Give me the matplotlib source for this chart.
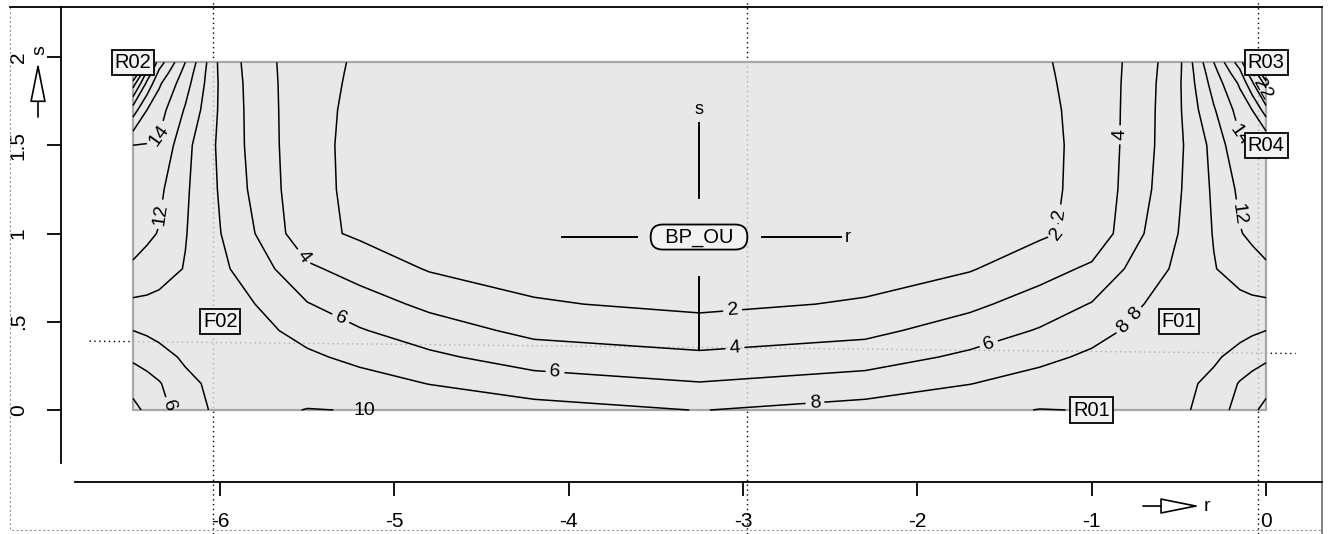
import numpy as np
import matplotlib.pyplot as plt
from matplotlib.patches import Rectangle

plt.rcParams['font.family'] = ['Liberation Sans', 'DejaVu Sans']
plt.rcParams['axes.unicode_minus'] = False

# mesh nodes: r along the member, s across it
r_nodes = [-6.5, -6.42, -6.35, -6.2, -6.0, -5.8, -5.5, -5.2, -4.8, -4.2, -3.25,
           -2.3, -1.7, -1.3, -1.0, -0.7, -0.5, -0.3, -0.15, -0.08, 0.0]
s_nodes = [0.0, 0.15, 0.3, 0.45, 0.6, 0.8, 1.0, 1.25, 1.5, 1.7, 1.85, 1.91, 1.97]

# nodal values estimated from the isolines, one row per s node
row_000 = [3.3, 4.5, 5.3, 7.0, 8.5, 9.6, 10.05, 9.95, 9.4, 8.75, 7.95,
           8.75, 9.5, 10.05, 9.95, 9.6, 8.5, 7.0, 5.3, 4.5, 3.3]
row_015 = [4.9, 5.3, 5.85, 7.5, 8.6, 9.3, 9.2, 8.8, 7.95, 6.9, 6.1,
           6.9, 7.95, 8.8, 9.2, 9.3, 8.6, 7.5, 5.85, 5.3, 4.9]
row_030 = [6.3, 6.8, 7.3, 8.3, 9.0, 9.1, 8.35, 7.5, 6.4, 5.06, 4.4,
           5.06, 6.4, 7.5, 8.35, 9.1, 9.0, 8.3, 7.3, 6.8, 6.3]
row_045 = [8.0, 8.3, 8.6, 9.0, 9.2, 8.6, 7.3, 6.15, 4.95, 3.48, 2.8,
           3.48, 4.95, 6.15, 7.3, 8.6, 9.2, 9.0, 8.6, 8.3, 8.0]
row_060 = [9.6, 9.55, 9.45, 9.3, 9.2, 8.0, 6.1, 4.9, 3.55, 2.17, 1.6,
           2.17, 3.55, 4.9, 6.1, 8.0, 9.2, 9.3, 9.45, 9.55, 9.6]
row_080 = [11.8, 11.3, 10.8, 9.9, 8.4, 7.0, 4.35, 3.2, 1.85, 1.3, 1.0,
           1.3, 1.85, 3.2, 4.35, 7.0, 8.4, 9.9, 10.8, 11.3, 11.8]
row_100 = [12.6, 12.35, 11.9, 10.1, 8.05, 6.0, 2.6, 1.7, 1.2, 1.0, 0.8,
           1.0, 1.2, 1.7, 2.6, 6.0, 8.05, 10.1, 11.9, 12.35, 12.6]
row_125 = [13.2, 12.9, 12.4, 10.3, 7.8, 5.5, 2.5, 1.6, 1.0, 0.85, 0.7,
           0.85, 1.0, 1.6, 2.5, 5.5, 7.8, 10.3, 12.4, 12.9, 13.2]
row_150 = [14.0, 13.9, 13.7, 10.6, 7.6, 5.3, 2.5, 1.55, 0.9, 0.8, 0.7,
           0.8, 0.9, 1.55, 2.5, 5.3, 7.6, 10.6, 13.7, 13.9, 14.0]
row_170 = [19.0, 16.0, 14.8, 11.8, 7.7, 5.2, 2.55, 1.6, 0.9, 0.8, 0.7,
           0.8, 0.9, 1.6, 2.55, 5.2, 7.7, 11.8, 14.8, 16.0, 19.0]
row_185 = [25.0, 19.5, 16.3, 12.8, 7.7, 5.1, 2.6, 1.7, 0.9, 0.8, 0.7,
           0.8, 0.9, 1.7, 2.6, 5.1, 7.7, 12.8, 16.3, 19.5, 25.0]
row_191 = [29.0, 21.5, 17.5, 13.3, 7.6, 5.05, 2.6, 1.75, 0.9, 0.8, 0.7,
           0.8, 0.9, 1.75, 2.6, 5.05, 7.6, 13.3, 17.5, 21.5, 29.0]
row_197 = [34.0, 24.0, 19.0, 14.0, 7.5, 5.0, 2.6, 1.8, 0.9, 0.8, 0.7,
           0.8, 0.9, 1.8, 2.6, 5.0, 7.5, 14.0, 19.0, 24.0, 34.0]

levels = [2, 4, 6, 8, 10, 12, 14, 16, 18, 20, 22, 24, 26, 28, 30, 32]

x_ticks = [-6, -5, -4, -3, -2, -1, 0]
x_tick_labels = ['-6', '-5', '-4', '-3', '-2', '-1', '0']
y_ticks = [0, 0.5, 1, 1.5, 2]
y_tick_labels = ['0', '.5', '1', '1.5', '2']

# FE points shown in boxes
point_names = ['R01', 'R02', 'R03', 'R04', 'F01', 'F02']
point_r = [-1.0, -6.5, 0.0, 0.0, -0.5, -6.0]
point_s = [0.0, 1.97, 1.97, 1.5, 0.5, 0.5]

# where the isoline values are written
label_spots = [(-6.345, 1.555), (-6.317, 1.105), (-5.531, 0.861), (-5.313, 0.51),
               (-4.079, 0.215), (-3.058, 0.533), (-3.046, 0.34), (-2.587, 0.028),
               (-1.583, 0.351), (-6.276, 0.028), (-1.182, 0.99), (-1.136, 1.105),
               (-0.797, 1.558), (-0.809, 0.465), (-0.74, 0.533), (-0.189, 1.105),
               (-0.16, 1.555), (-0.02, 1.82)]

field = np.array([row_000, row_015, row_030, row_045, row_060, row_080, row_100,
                  row_125, row_150, row_170, row_185, row_191, row_197])

fig = plt.figure(figsize=(13.29, 5.34), dpi=100)
ax = fig.add_axes([0, 0, 1, 1])
ax.set_xlim(-7.263, 0.361)
ax.set_ylim(-0.7025, 2.323)

# axis frame as drawn by the program
ax.spines['left'].set_position(('data', -6.913))
ax.spines['left'].set_bounds(-0.30, 2.283)
ax.spines['bottom'].set_position(('data', -0.41))
ax.spines['bottom'].set_bounds(-6.833, 0.321)
ax.spines['top'].set_position(('data', 2.283))
ax.spines['top'].set_bounds(-7.206, 0.321)
ax.spines['right'].set_position(('data', 0.321))
ax.spines['right'].set_bounds(-0.7025, 2.283)
for side in ['left', 'bottom', 'top', 'right']:
    ax.spines[side].set_linewidth(1.3)
ax.spines['right'].set_color('#777777')
ax.plot([-7.206, -7.206, 0.321], [2.283, -0.68, -0.68], color='#999999',
        lw=0.8, ls=(0, (2, 2)), clip_on=False)

ax.set_xticks(x_ticks, x_tick_labels)
ax.set_yticks(y_ticks, y_tick_labels)
ax.tick_params(axis='x', direction='out', length=10, width=1.3, pad=11, labelsize=15)
ax.tick_params(axis='y', direction='out', length=10, width=1.3, pad=14, labelsize=15,
               labelrotation=90)
for lbl in ax.get_yticklabels():
    lbl.set_va('center')

# dotted construction lines
guide_r = [-6.04, -2.975, -0.046]
for gr in guide_r:
    ax.plot([gr, gr], [-0.7025, 2.323], color='black', lw=1.0, ls=(0, (1, 2.5)), zorder=1)
ax.plot([-6.75, 0.17], [0.39, 0.32], color='black', lw=1.0, ls=(0, (1, 2.5)), zorder=1)

# shaded surface
surface = Rectangle((-6.5, 0), 6.5, 1.97, facecolor='#e8e8e8', edgecolor='#a8a8a8',
                    lw=1.6, zorder=2)
ax.add_patch(surface)
for gr in guide_r:
    ln, = ax.plot([gr, gr], [-0.7025, 2.323], color='#b0b0b0', lw=1.0,
                  ls=(0, (1, 2.5)), zorder=2.5)
    ln.set_clip_path(surface)
ln, = ax.plot([-6.75, 0.17], [0.39, 0.32], color='#b0b0b0', lw=1.0, ls=(0, (1, 2.5)),
              zorder=2.5)
ln.set_clip_path(surface)

cs = ax.contour(r_nodes, s_nodes, field, levels=levels, colors='black',
                linewidths=1.1, zorder=3)
ax.clabel(cs, manual=label_spots, inline=True, inline_spacing=4, fmt='%d', fontsize=14)
ax.text(-5.17, 0.0, '10', fontsize=14, ha='center', va='center', zorder=4)

# local axes of the surface
cx, cy = -3.253, 0.98
ax.plot([cx, cx], [1.20, 1.626], color='black', lw=1.4, zorder=4)
ax.plot([cx, cx], [0.34, 0.754], color='black', lw=1.4, zorder=4)
ax.plot([-4.04, -3.61], [cy, cy], color='black', lw=1.4, zorder=4)
ax.plot([-2.89, -2.44], [cy, cy], color='black', lw=1.4, zorder=4)
ax.text(cx, 1.70, 's', fontsize=13, ha='center', va='center', zorder=4)
ax.text(-2.40, cy, 'r', fontsize=13, ha='center', va='center', zorder=4)
ax.text(cx, cy, '  BP_OU  ', fontsize=14.5, ha='center', va='center', zorder=5,
        bbox=dict(boxstyle='round,pad=0.15,rounding_size=0.6', fc='#f2f2f2',
                  ec='black', lw=1.3))

for name, pr, ps in zip(point_names, point_r, point_s):
    ax.text(pr, ps, name, fontsize=14.5, ha='center', va='center', zorder=5,
            bbox=dict(boxstyle='square,pad=0.15', fc='#f2f2f2', ec='black', lw=1.3))

# global axis names with hollow arrows
arrow_style = dict(arrowstyle='-|>,head_length=1.25,head_width=0.25', fc='white',
                   ec='black', lw=1.2, mutation_scale=20, shrinkA=0, shrinkB=0)
ax.annotate('', xy=(-7.045, 1.97), xytext=(-7.045, 1.66), arrowprops=arrow_style,
            annotation_clip=False)
ax.text(-7.035, 2.04, 's', fontsize=14, rotation=90, ha='center', va='center')
ax.annotate('', xy=(-0.379, -0.544), xytext=(-0.706, -0.544), arrowprops=arrow_style,
            annotation_clip=False)
ax.text(-0.338, -0.544, 'r', fontsize=14, ha='center', va='center')

fig.savefig('out.png', dpi=100)
